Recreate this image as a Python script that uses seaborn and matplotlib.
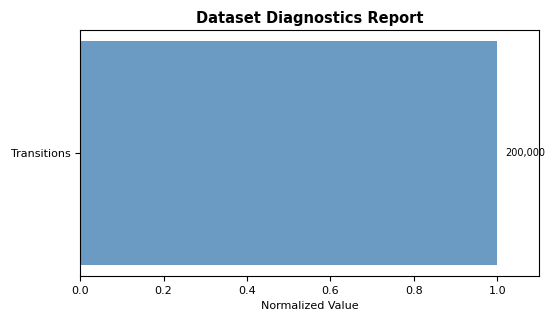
import matplotlib
matplotlib.use("Agg")
import matplotlib.pyplot as plt
import seaborn as sns
import pandas as pd

categories = ["Transitions"]
raw_values = [200000]
normalized = [1.0]

df = pd.DataFrame({"metric": categories, "value": normalized})

fig, ax = plt.subplots(figsize=(5.6, 3.2), dpi=100)
sns.barplot(data=df, x="value", y="metric", orient="h", color="steelblue",
            alpha=0.8, width=0.8, saturation=1, ax=ax)
ax.set_ylim(0.44, -0.44)
ax.set_xlim(0, 1.1)

for i, (v, raw) in enumerate(zip(normalized, raw_values)):
    ax.text(v + 0.02, i, f"{raw:,}", va="center", ha="left", fontsize=7)

ax.set_xlabel("Normalized Value", fontsize=8)
ax.set_ylabel("")
ax.tick_params(labelsize=8)
ax.set_title("Dataset Diagnostics Report", fontsize=10.5, fontweight="bold", pad=5)

fig.subplots_adjust(left=0.143, right=0.9625, top=0.906, bottom=0.1375)
fig.savefig("out.png", dpi=100)
